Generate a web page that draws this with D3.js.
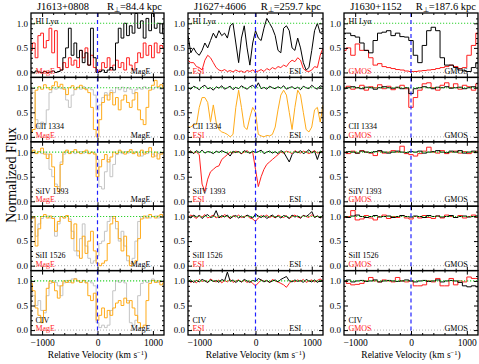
<!DOCTYPE html>
<meta charset="utf-8">
<script src="https://d3js.org/d3.v7.min.js"></script>
<style>
  body { margin: 0; background: #fff; }
  text { font-family: "Liberation Serif", "Times New Roman", serif; }
</style>
<body>
<div id="my_dataviz"></div>
<script>

// pixel grids of the spectra (km/s)
var velMagE = d3.range(-1200, 1201, 50);
var velESI = d3.range(-1200, 1201, 50);
var velGMOS = d3.range(-1200, 1201, 80);

// ---- J1613+0808 (MagE) : black / red for Lya, gray / orange for metals
var j1613LyaRed = [0.45,0.6,0.3,0.75,0.8,0.5,0.65,0.9,0.4,0.85, 0.1,0.05,0.2,0.1,0.3,0.15,0.25,0.1,0.45,0.3, 0.5,0.15,0.35,0.1,0.0,0.05,0.2,0.1,0.3,0.05, 0.15,0.25,0.1,0.2,0.05,0.3,0.15,0.05,0.2,0.4, 0.3,0.6,0.35,0.55,0.3,0.6,0.4,0.55,0.5];
var j1613LyaBlack = [0.02,0.0,0.03,0.01,0.0,0.02,0.0,0.01,0.03,0.0, 0.02,0.05,0.3,0.5,0.9,0.35,0.6,0.3,0.45,0.2, 0.4,0.15,0.9,0.3,0.0,0.02,0.05,0.0,0.05,0.1, 0.05,0.6,0.9,0.7,1.0,0.75,0.95,0.8,1.2,0.9, 1.05,0.7,1.1,0.85,1.2,0.9,1.0,0.8,1.0];
var j1613CIIGray = [1.0,0.9,0.35,0.2,0.3,0.25,0.55,0.9,1.0,0.97, 1.01,0.98,1.0,0.75,0.6,0.85,0.96,1.0,0.97,1.02, 0.98,1.0,0.96,0.85,0.55,0.65,0.8,0.9,0.85,0.95, 0.9,1.0,0.96,1.01,0.92,1.0,0.97,0.88,0.96,1.0, 0.97,1.02,0.98,1.0,0.97,1.01,1.0,0.97,1.0];
var j1613CIIOrange = [0.1,0.15,0.95,1.02,0.97,1.06,1.0,0.96,1.04,1.12, 1.02,1.07,0.97,0.86,1.0,1.04,0.97,1.01,1.05,0.99, 0.96,0.9,0.6,0.15,0.0,0.35,0.7,0.85,0.75,0.9, 0.65,0.8,0.55,0.75,0.85,0.7,0.6,0.75,0.9,0.55, 0.35,0.25,0.6,0.95,1.05,1.15,1.02,1.06,1.0];
var j1613SiIVGray = [0.97,1.0,0.98,1.01,0.97,1.0,0.96,0.65,0.5,0.35, 0.3,0.8,0.96,1.0,0.98,1.01,0.97,1.0,1.01,0.98, 1.0,0.97,1.0,0.98,0.85,0.3,0.25,0.6,0.85,0.5, 0.75,0.95,1.0,0.97,1.01,0.98,1.0,0.97,1.01,0.96, 0.92,1.0,0.97,1.01,0.96,0.92,0.97,1.0,0.98];
var j1613SiIVOrange = [1.0,1.04,0.97,1.01,1.08,0.96,0.87,0.96,0.7,0.3, 0.2,0.75,1.0,1.04,0.97,1.01,1.05,1.0,0.97,1.01, 1.04,0.97,1.0,0.96,0.5,0.7,0.85,0.95,0.8,0.9, 1.0,0.97,1.04,1.0,0.96,1.01,1.05,0.97,1.0,0.92, 1.04,0.96,1.01,1.09,0.9,1.0,0.86,0.96,1.0];
var j1613SiIIGray = [1.0,0.96,0.6,0.85,0.96,1.0,1.01,0.97,1.0,0.6, 0.85,1.0,0.97,1.01,0.95,0.7,0.3,0.2,0.55,0.85, 0.4,0.15,0.05,0.1,0.2,0.45,0.5,0.7,0.9,1.0, 0.96,0.75,0.5,0.7,0.4,0.1,0.05,0.15,0.5,0.9, 1.0,0.97,1.01,0.97,1.0,1.01,0.97,1.0,0.98];
var j1613SiIIOrange = [0.96,1.0,0.4,0.75,1.0,1.04,0.97,1.01,0.96,0.7, 0.9,1.0,0.97,1.02,0.9,0.55,0.85,0.3,0.15,0.6, 0.25,0.5,0.7,0.3,0.05,0.0,0.05,0.1,0.45,0.85, 1.0,0.9,0.55,0.3,0.6,0.2,0.0,0.05,0.1,0.55, 0.95,1.01,0.97,1.04,1.0,0.97,1.01,1.04,1.0];
var j1613CIVGray = [0.96,0.7,0.5,0.6,0.4,0.35,0.7,0.95,1.0,0.97, 0.9,0.7,0.96,1.01,0.97,1.04,1.05,1.0,0.97,1.01, 0.97,1.0,0.96,0.9,0.15,0.05,0.1,0.05,0.1,0.4, 0.8,1.0,0.97,1.01,0.96,0.6,0.15,0.1,0.2,0.7, 0.95,1.01,0.97,1.0,1.04,1.0,0.97,1.01,1.0];
var j1613CIVOrange = [0.95,0.8,0.45,0.3,0.15,0.4,0.85,1.0,0.97,0.8, 0.65,0.9,1.0,0.97,1.01,0.96,1.04,1.0,0.97,1.01, 0.96,0.7,0.6,0.75,0.2,0.3,0.45,0.25,0.4,0.3, 0.45,0.55,0.6,0.5,0.65,0.55,0.6,0.45,0.3,0.15, 0.05,0.1,0.6,0.95,1.01,0.97,1.0,0.92,0.96];

// ---- J1627+4606 (ESI)
var j1627LyaRed = [0.25,0.2,0.2,0.12,0.1,0.05,0.25,0.35,0.3,0.2, 0.1,0.05,0.03,0.06,0.02,0.04,0.01,0.05,0.02,0.03, 0.0,0.04,0.02,0.05,0.01,0.03,0.06,0.02,0.08,0.05, 0.1,0.07,0.12,0.1,0.15,0.12,0.2,0.25,0.22,0.3, 0.25,0.08,0.03,0.02,0.05,0.12,0.1,0.35,0.5];
var j1627LyaBlack = [0.75,0.4,0.5,0.4,0.35,0.45,0.6,0.5,0.65,0.8, 0.7,0.85,0.75,0.8,0.7,0.95,1.0,0.6,0.2,0.7, 0.95,0.5,0.15,0.6,0.85,0.7,0.65,0.9,1.1,1.0, 0.9,0.75,0.45,0.4,0.9,0.95,0.85,0.5,0.45,0.7, 0.5,0.2,0.05,0.1,0.45,0.85,1.0,0.8,0.85];
var j1627CIIBlack = [1.0,0.97,1.03,1.0,0.96,1.02,1.05,0.98,1.0,0.95, 1.02,0.99,1.04,0.97,1.0,1.03,0.96,1.01,0.98,1.04, 1.0,0.97,1.02,1.05,0.99,1.1,0.98,1.01,0.97,1.03, 1.0,0.98,1.02,0.99,1.04,0.97,1.0,1.02,0.98,1.01, 0.96,1.03,1.0,0.98,1.05,1.0,0.97,1.04,1.02];
var j1627CIIOrange = [0.2,0.2,0.25,0.25,0.6,0.8,0.8,0.7,0.3,0.65, 0.3,0.15,0.1,0.08,0.05,0.0,0.05,0.6,0.95,0.6, 0.2,0.15,0.4,0.6,0.5,0.05,0.02,0.0,0.03,0.02, 0.05,0.2,0.55,0.85,0.95,0.85,0.5,0.15,0.6,0.95, 0.85,0.5,0.15,0.1,0.2,0.55,0.6,0.3,0.65];
var j1627SiIVRed = [1.0,1.02,0.98,1.0,0.95,0.35,0.2,0.45,0.6,0.65, 0.7,0.72,0.85,0.9,0.95,1.0,0.98,1.02,1.0,0.97, 1.0,1.03,0.98,1.0,0.65,0.3,0.5,0.65,0.75,0.8, 0.85,0.9,0.95,1.0,0.98,1.02,1.0,0.97,1.03,1.0, 0.98,1.02,1.0,0.97,1.0,1.03,0.98,1.0,1.02];
var j1627SiIVBlack = [1.0,1.02,0.97,1.03,0.99,1.04,0.98,1.01,1.0,0.97, 1.02,0.99,1.03,1.0,0.98,0.92,1.02,0.99,1.01,0.97, 1.03,1.0,0.98,1.02,0.99,1.01,1.04,0.97,1.0,1.02, 0.98,1.01,0.97,1.03,1.0,0.9,0.8,0.95,1.01,0.99, 1.03,0.97,1.0,1.05,0.98,1.02,0.85,1.02,1.0];
var j1627SiIIRed = [0.98,1.03,1.0,0.96,1.02,0.99,1.04,0.97,1.0,1.03, 0.97,1.01,0.98,1.04,1.0,0.96,1.02,0.99,1.03,0.98, 1.0,1.02,0.97,0.95,0.9,0.97,1.02,0.99,1.03,0.98, 1.01,0.97,1.03,1.0,0.98,1.02,0.96,1.0,1.03,0.99, 0.97,1.02,1.0,0.98,1.04,0.99,1.01,0.97,1.02];
var j1627SiIIBlack = [1.0,0.97,1.03,0.99,1.02,0.96,1.01,1.04,0.98,1.0, 1.12,0.97,1.02,0.99,1.03,0.96,1.0,1.02,0.97,1.01, 0.98,1.03,1.0,0.97,1.05,1.01,0.98,1.02,0.96,1.0, 1.03,0.98,1.01,0.97,1.02,1.0,0.96,1.03,0.99,1.01, 0.97,1.02,1.0,1.04,1.1,0.98,1.01,0.97,1.03];
var j1627CIVRed = [1.02,0.97,1.0,0.96,1.03,0.99,1.01,0.97,1.04,1.0, 0.98,1.02,0.96,1.01,0.98,1.03,0.97,1.0,1.02,0.98, 1.01,0.97,1.0,0.95,0.9,0.96,1.02,0.99,1.01,0.97, 1.03,1.0,0.98,0.95,0.92,0.87,0.95,1.01,0.98,1.02, 0.99,1.03,0.97,1.0,1.02,0.98,1.01,1.04,1.0];
var j1627CIVBlack = [0.99,1.02,0.97,1.01,0.98,1.03,1.0,0.97,1.02,0.99, 1.01,0.97,1.03,1.0,1.18,0.99,1.02,0.97,1.01,0.98, 1.03,1.0,0.97,1.01,0.99,1.05,1.02,0.98,1.01,0.97, 1.0,1.02,0.98,1.03,1.06,1.09,1.0,0.98,1.02,0.99, 1.01,0.97,1.03,1.0,0.98,1.02,0.97,1.01,1.0];

// ---- J1630+1152 (GMOS)
var j1630LyaRed = [0.45,0.5,0.35,0.58,0.45,0.45,0.3,0.15,0.18,0.12, 0.1,0.08,0.06,0.05,0.03,0.02,0.02,0.03,0.04,0.05, 0.06,0.08,0.1,0.12,0.15,0.12,0.08,0.1,0.35,0.55, 0.8];
var j1630LyaBlack = [0.8,0.8,0.75,0.72,0.6,0.45,0.4,0.65,0.8,0.82, 0.85,0.75,0.8,0.73,0.72,0.65,0.35,0.2,0.55,0.85, 0.92,0.85,0.3,0.15,0.15,0.1,0.05,0.03,0.02,0.1, 0.2];
var j1630CIIRed = [1.0,1.03,0.97,1.0,1.05,0.95,1.02,1.0,1.06,0.98, 1.03,0.96,1.0,1.05,0.98,0.6,0.8,0.95,1.08,1.1, 1.0,0.95,1.05,1.1,1.0,1.08,0.97,1.05,1.02,0.95, 1.08];
var j1630CIIBlack = [0.98,1.0,1.02,1.0,0.98,1.01,1.0,0.97,1.0,1.02, 1.0,0.99,1.01,0.98,1.0,0.88,0.98,1.0,1.02,1.0, 0.98,1.01,1.0,1.02,0.99,1.0,1.01,0.98,1.0,1.02, 1.0];
var j1630SiIVRed = [1.0,0.97,1.02,0.98,1.03,1.0,0.98,0.93,1.02,0.98, 1.0,1.03,1.0,1.12,0.97,0.95,0.92,0.97,1.02,1.1, 1.0,0.98,1.03,0.97,1.0,1.02,0.98,1.01,0.97,1.0, 1.02];
var j1630SiIVBlack = [0.99,1.01,1.0,0.98,1.02,1.0,0.99,1.01,1.03,1.0, 0.98,1.0,1.02,1.0,0.99,1.01,1.0,1.02,0.98,1.0, 1.01,1.03,1.0,0.99,1.02,1.0,1.03,0.98,1.0,1.02, 1.0];
var j1630SiIIRed = [0.98,1.0,1.12,0.93,0.95,1.02,0.97,0.93,1.0,1.03, 0.96,1.0,0.98,1.02,0.97,0.95,1.0,0.97,1.02,0.98, 0.96,1.01,0.97,1.03,1.0,0.98,1.02,0.97,1.0,1.03, 0.98];
var j1630SiIIBlack = [1.0,0.98,1.01,1.03,1.0,0.98,1.0,1.02,0.99,1.0, 1.01,0.98,1.0,1.02,1.0,0.99,1.01,1.0,0.98,1.02, 1.0,1.01,0.99,1.0,1.02,0.98,1.0,1.01,0.99,1.0, 1.01];
var j1630CIVRed = [1.0,0.95,0.92,0.93,0.95,1.0,1.07,1.0,0.98,1.02, 1.0,0.98,1.07,1.0,0.98,1.0,0.9,0.9,0.92,1.0, 0.98,1.05,0.9,0.9,1.05,0.92,1.0,0.98,1.08,1.05, 1.05];
var j1630CIVBlack = [1.0,1.02,0.98,1.0,1.01,0.99,1.0,1.02,0.98,1.0, 1.01,1.0,0.99,1.0,1.02,1.0,0.98,1.0,1.01,0.99, 1.0,1.02,0.98,1.0,1.01,1.0,0.97,0.9,0.88,0.9, 0.88];

var ions = ["HI Ly\u03b1", "CII 1334", "SiIV 1393", "SiII 1526", "CIV"];

var RED = "#ff1f1f", BLACK = "#000", GRAY = "#c4c4c4", ORANGE = "#ffab1a";

var columns = [
  {name: "J1613+0808", rperp: "84.4", inst: "MagE", x0: 31, x1: 164, vel: velMagE, curve: d3.curveStep,
   rows: [[[j1613LyaRed, RED], [j1613LyaBlack, BLACK]],
          [[j1613CIIGray, GRAY], [j1613CIIOrange, ORANGE]],
          [[j1613SiIVGray, GRAY], [j1613SiIVOrange, ORANGE]],
          [[j1613SiIIGray, GRAY], [j1613SiIIOrange, ORANGE]],
          [[j1613CIVGray, GRAY], [j1613CIVOrange, ORANGE]]]},
  {name: "J1627+4606", rperp: "259.7", inst: "ESI", x0: 188, x1: 323, vel: velESI, curve: d3.curveLinear,
   rows: [[[j1627LyaRed, RED], [j1627LyaBlack, BLACK]],
          [[j1627CIIBlack, BLACK], [j1627CIIOrange, ORANGE]],
          [[j1627SiIVRed, RED], [j1627SiIVBlack, BLACK]],
          [[j1627SiIIRed, RED], [j1627SiIIBlack, BLACK]],
          [[j1627CIVRed, RED], [j1627CIVBlack, BLACK]]]},
  {name: "J1630+1152", rperp: "187.6", inst: "GMOS", x0: 344, x1: 478, vel: velGMOS, curve: d3.curveStep,
   rows: [[[j1630LyaRed, RED], [j1630LyaBlack, BLACK]],
          [[j1630CIIRed, RED], [j1630CIIBlack, BLACK]],
          [[j1630SiIVRed, RED], [j1630SiIVBlack, BLACK]],
          [[j1630SiIIRed, RED], [j1630SiIIBlack, BLACK]],
          [[j1630CIVRed, RED], [j1630CIVBlack, BLACK]]]}
];

var rowTop = 13, rowH = 64.4;

var svg = d3.select("#my_dataviz")
  .append("svg")
    .attr("width", 479)
    .attr("height", 364);

function noDomain(g) { g.select(".domain").remove(); }

columns.forEach(function(col, ci) {
  var x = d3.scaleLinear().domain([-1200, 1200]).range([col.x0, col.x1]);

  // header
  svg.append("text")
    .attr("x", col.x0 + 32).attr("y", 10)
    .attr("text-anchor", "middle")
    .style("font-size", "10.5px")
    .text(col.name);
  var rt = svg.append("text")
    .attr("x", col.x1 - 2).attr("y", 10)
    .attr("text-anchor", "end")
    .style("font-size", "10.5px");
  rt.append("tspan").text("R");
  rt.append("tspan").attr("dy", 2).style("font-size", "7px").text("\u22a5");
  rt.append("tspan").attr("dy", -2).text("=" + col.rperp + " kpc");

  col.rows.forEach(function(series, ri) {
    var top = rowTop + ri * rowH;
    var y = d3.scaleLinear().domain([-0.1, 1.21]).range([top + rowH, top]);
    var clipId = "clip" + ci + "_" + ri;
    svg.append("clipPath").attr("id", clipId)
      .append("rect")
        .attr("x", col.x0).attr("y", top)
        .attr("width", col.x1 - col.x0).attr("height", rowH);

    var inner = svg.append("g").attr("clip-path", "url(#" + clipId + ")");

    // zero level
    inner.append("line")
      .attr("x1", col.x0).attr("x2", col.x1)
      .attr("y1", y(0)).attr("y2", y(0))
      .style("stroke", "#999").style("stroke-width", 0.8)
      .style("stroke-dasharray", "1,2");

    var line = d3.line()
      .x(function(d) { return x(d[0]); })
      .y(function(d) { return y(d[1]); })
      .curve(col.curve);

    series.forEach(function(s) {
      var pts = s[0].map(function(f, i) { return [col.vel[i], f]; });
      inner.append("path")
        .datum(pts)
        .attr("d", line)
        .style("fill", "none")
        .style("stroke", s[1])
        .style("stroke-width", 1);
    });

    // continuum
    inner.append("line")
      .attr("x1", col.x0).attr("x2", col.x1)
      .attr("y1", y(1)).attr("y2", y(1))
      .style("stroke", "#2ed12e").style("stroke-width", 1.1)
      .style("stroke-dasharray", "1.2,1.8");

    // systemic velocity
    inner.append("line")
      .attr("x1", x(0)).attr("x2", x(0))
      .attr("y1", top).attr("y2", top + rowH)
      .style("stroke", "#2020ff").style("stroke-width", 1.2)
      .style("stroke-dasharray", "4,3");

    // axes (ticks point inward)
    svg.append("g").attr("transform", "translate(" + col.x0 + ",0)")
      .call(d3.axisLeft(y).tickValues([0, 0.5, 1]).tickSize(-4).tickPadding(3).tickFormat(d3.format(".1f")))
      .call(noDomain)
      .selectAll("text").style("font-size", "9px");
    svg.append("g").attr("transform", "translate(" + col.x0 + ",0)")
      .call(d3.axisLeft(y).tickValues([0.1, 0.2, 0.3, 0.4, 0.6, 0.7, 0.8, 0.9, 1.1]).tickSize(-2).tickFormat(""))
      .call(noDomain);
    svg.append("g").attr("transform", "translate(" + col.x1 + ",0)")
      .call(d3.axisRight(y).tickValues([0, 0.5, 1]).tickSize(-4).tickFormat(""))
      .call(noDomain);
    svg.append("g").attr("transform", "translate(" + col.x1 + ",0)")
      .call(d3.axisRight(y).tickValues([0.1, 0.2, 0.3, 0.4, 0.6, 0.7, 0.8, 0.9, 1.1]).tickSize(-2).tickFormat(""))
      .call(noDomain);
    svg.append("g").attr("transform", "translate(0," + top + ")")
      .call(d3.axisTop(x).tickValues([-1000, 0, 1000]).tickSize(-4).tickFormat(""))
      .call(noDomain);
    svg.append("g").attr("transform", "translate(0," + top + ")")
      .call(d3.axisTop(x).tickValues([-800, -600, -400, -200, 200, 400, 600, 800]).tickSize(-2).tickFormat(""))
      .call(noDomain);
    var bottom = svg.append("g").attr("transform", "translate(0," + (top + rowH) + ")")
      .call(d3.axisBottom(x).tickValues([-1000, 0, 1000]).tickSize(-4).tickPadding(4)
        .tickFormat(ri === col.rows.length - 1 ? d3.format("d") : ""))
      .call(noDomain);
    bottom.selectAll("text").style("font-size", "9.5px");
    svg.append("g").attr("transform", "translate(0," + (top + rowH) + ")")
      .call(d3.axisBottom(x).tickValues([-800, -600, -400, -200, 200, 400, 600, 800]).tickSize(-2).tickFormat(""))
      .call(noDomain);

    // frame
    svg.append("rect")
      .attr("x", col.x0).attr("y", top)
      .attr("width", col.x1 - col.x0).attr("height", rowH)
      .style("fill", "none").style("stroke", "#000").style("stroke-width", 1.3);

    // labels
    var lx = x(-1120);
    if (ri === 0) {
      svg.append("text").attr("x", lx).attr("y", top + 11)
        .style("font-size", "8px").text(ions[ri]);
    } else {
      svg.append("text").attr("x", lx).attr("y", top + 52)
        .style("font-size", "8px").text(ions[ri]);
    }
    svg.append("text").attr("x", lx).attr("y", top + 60.5)
      .style("font-size", "8px").style("fill", RED).text(col.inst);
    svg.append("text").attr("x", x(600)).attr("y", top + 60.5)
      .style("font-size", "8px").text(col.inst);
  });

  // x axis title
  var xt = svg.append("text")
    .attr("x", (col.x0 + col.x1) / 2).attr("y", 358)
    .attr("text-anchor", "middle")
    .style("font-size", "9.5px");
  xt.append("tspan").text("Relative Velocity (km s");
  xt.append("tspan").attr("dy", -3.5).style("font-size", "6.5px").text("\u22121");
  xt.append("tspan").attr("dy", 3.5).text(")");
});

svg.append("text")
  .attr("transform", "translate(16,175) rotate(-90)")
  .attr("text-anchor", "middle")
  .style("font-size", "14px")
  .text("Normalized Flux");

</script>
</body>
